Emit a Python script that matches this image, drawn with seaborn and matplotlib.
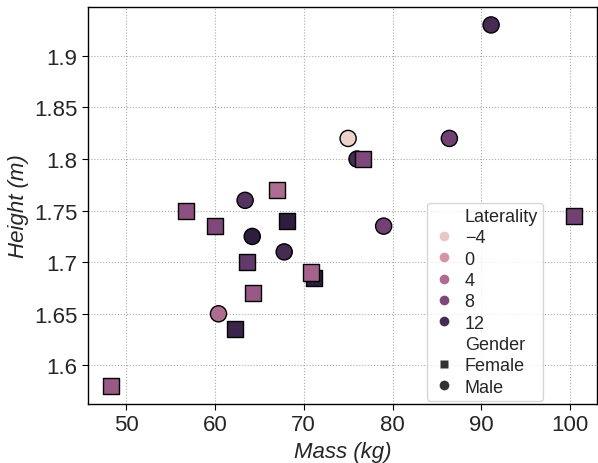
import matplotlib
matplotlib.use("Agg")
import matplotlib.pyplot as plt
from matplotlib.lines import Line2D
import seaborn as sns
import pandas as pd

mass = [91.1, 100.4, 75.0, 76.0, 76.7, 86.4, 79.0, 67.0, 56.7, 60.0,
        63.4, 68.1, 64.2, 67.8, 63.6, 71.2, 70.8, 64.3, 60.4, 62.3, 48.3]
height = [1.93, 1.745, 1.82, 1.80, 1.80, 1.82, 1.735, 1.77, 1.75, 1.735,
          1.76, 1.74, 1.725, 1.71, 1.70, 1.685, 1.69, 1.67, 1.65, 1.635, 1.58]
laterality = [12, 9, -5, 12, 8, 9, 9, 4, 7, 8,
              11, 14, 14, 12, 10, 14, 5, 6, 4, 13, 6]
gender = ["Male", "Female", "Male", "Male", "Female", "Male", "Male", "Female", "Female", "Female",
          "Male", "Female", "Male", "Male", "Female", "Female", "Female", "Female", "Male", "Female", "Female"]

df = pd.DataFrame({"Mass": mass, "Height": height, "Laterality": laterality, "Gender": gender})

sns.set_style("white")
plt.rcParams['font.family'] = ['Liberation Sans', 'DejaVu Sans']

fig = plt.figure(figsize=(5.98, 4.64), dpi=100)
ax = fig.add_axes([0.147, 0.127, 0.851, 0.856])
sns.scatterplot(data=df, x="Mass", y="Height", hue="Laterality", style="Gender",
                markers={"Female": "s", "Male": "o"}, style_order=["Female", "Male"],
                s=135, edgecolor="black", linewidth=1, ax=ax)
ax.grid(True, color="#aaaaaa", linestyle=":", linewidth=0.8)
ax.set_axisbelow(True)
for sp in ax.spines.values():
    sp.set_color("black")
    sp.set_linewidth(1)
ax.tick_params(labelsize=16, left=True, bottom=True, length=4, color="black")
ax.set_xlabel("Mass (kg)", fontsize=16, style="italic")
ax.set_ylabel("Height (m)", fontsize=16, style="italic")
ax.set_xticks([50, 60, 70, 80, 90, 100])
ax.set_yticks([1.6, 1.65, 1.7, 1.75, 1.8, 1.85, 1.9])
ax.set_yticklabels(["1.6", "1.65", "1.7", "1.75", "1.8", "1.85", "1.9"])

handles, labels = ax.get_legend_handles_labels()
new_handles = []
for h, lab in zip(handles, labels):
    if lab in ("Laterality", "Gender"):
        new_handles.append(Line2D([], [], linestyle="none", marker=None))
        continue
    try:
        fc = h.get_facecolor()[0]
    except Exception:
        fc = h.get_markerfacecolor()
    if lab == "Female":
        new_handles.append(Line2D([], [], linestyle="none", marker="s", markersize=6,
                                  markerfacecolor="#333333", markeredgecolor="none"))
    elif lab == "Male":
        new_handles.append(Line2D([], [], linestyle="none", marker="o", markersize=7,
                                  markerfacecolor="#333333", markeredgecolor="none"))
    else:
        new_handles.append(Line2D([], [], linestyle="none", marker="o", markersize=7,
                                  markerfacecolor=fc, markeredgecolor="none"))
ax.legend(new_handles, labels, loc="lower left", bbox_to_anchor=(0.666, 0.0076), fontsize=13,
          frameon=True, borderaxespad=0, handletextpad=0.5, borderpad=0.3,
          labelspacing=0.24, handlelength=1.3)
fig.savefig("out.png", dpi=100)
